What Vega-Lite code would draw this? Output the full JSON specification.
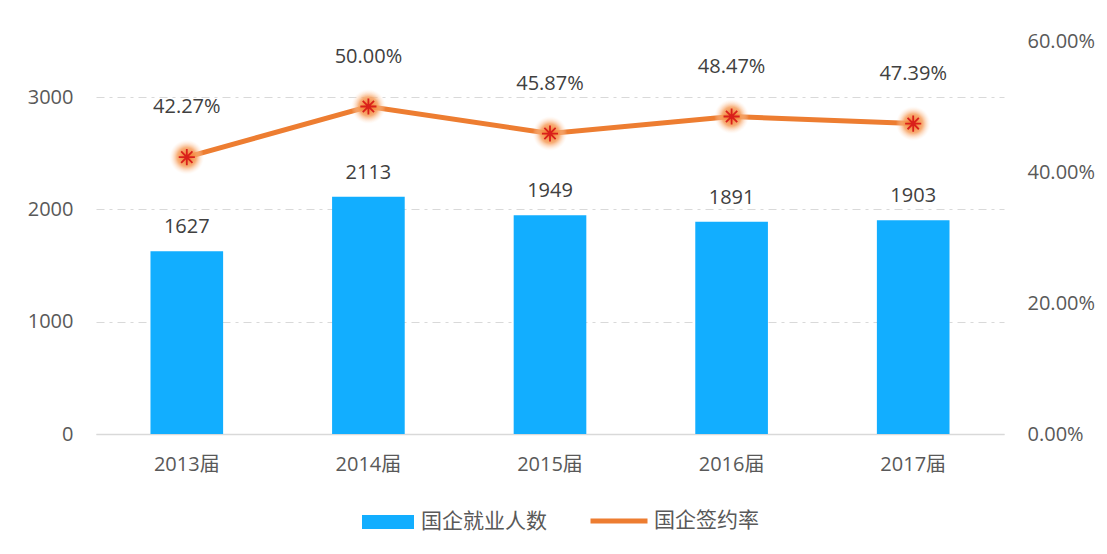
{
  "$schema": "https://vega.github.io/schema/vega-lite/v6.json",
  "autosize": {"type": "none"},
  "padding": {"left": 96, "top": 41, "right": 103, "bottom": 120},
  "width": 908,
  "height": 393,
  "background": "white",
  "config": {
    "view": {"stroke": null},
    "font": "Open Sans, Noto Sans CJK SC",
    "axis": {"labelFont": "Open Sans, Noto Sans CJK SC", "labelFontSize": 20, "labelColor": "#595959", "ticks": false, "title": null},
    "legend": {"labelFont": "Noto Sans CJK SC", "labelFontSize": 21, "labelColor": "#595959", "padding": 0, "title": null}
  },
  "data": {
    "values": [
      {"year": "2013届", "count": 1627, "rate": 0.4227},
      {"year": "2014届", "count": 2113, "rate": 0.5},
      {"year": "2015届", "count": 1949, "rate": 0.4587},
      {"year": "2016届", "count": 1891, "rate": 0.4847},
      {"year": "2017届", "count": 1903, "rate": 0.4739}
    ]
  },
  "encoding": {
    "x": {
      "field": "year", "type": "nominal", "sort": null,
      "scale": {"paddingInner": 0.6, "paddingOuter": 0.3},
      "axis": {"labelAngle": 0, "labelPadding": 20, "domainColor": "#d9d9d9", "domainWidth": 1.5}
    }
  },
  "layer": [
    {
      "encoding": {
        "y": {
          "field": "count", "type": "quantitative",
          "scale": {"domain": [0, 3500], "nice": false},
          "axis": {"values": [0, 1000, 2000, 3000], "format": "d", "grid": true, "gridColor": "#d9d9d9", "gridWidth": 1.2, "gridDash": [8, 5, 3, 5], "domain": false, "labelPadding": 23}
        }
      },
      "layer": [
        {
          "mark": {"type": "bar"},
          "encoding": {
            "fill": {
              "datum": "国企就业人数",
              "scale": {"range": ["#12AEFF"]},
              "legend": {
                "orient": "none", "legendX": 266, "legendY": 455,
                "symbolType": "M-1,-0.27H1V0.27H-1Z", "symbolSize": 2704, "labelOffset": 7, "symbolStrokeWidth": 0
              }
            }
          }
        },
        {
          "mark": {"type": "text", "baseline": "middle", "dy": -24, "fontSize": 20, "color": "#404040", "font": "Open Sans"},
          "encoding": {"text": {"field": "count", "type": "quantitative", "format": "d"}}
        }
      ]
    },
    {
      "encoding": {
        "y": {
          "field": "rate", "type": "quantitative",
          "scale": {"domain": [0, 0.6], "nice": false},
          "axis": {"orient": "right", "values": [0, 0.2, 0.4, 0.6], "format": ".2%", "grid": false, "domain": false, "labelPadding": 23}
        }
      },
      "layer": [
        {
          "mark": {"type": "line", "strokeWidth": 5},
          "encoding": {
            "stroke": {
              "datum": "国企签约率",
              "scale": {"range": ["#ED7D31"]},
              "legend": {
                "orient": "none", "legendX": 492, "legendY": 449,
                "symbolType": "stroke", "symbolSize": 3249, "symbolStrokeWidth": 5, "labelOffset": 4
              }
            }
          }
        },
        {
          "mark": {
            "type": "point", "filled": true, "size": 1200, "shape": "circle", "strokeWidth": 0,
            "fill": {
              "gradient": "radial",
              "stops": [
                {"offset": 0, "color": "rgba(240,110,30,1)"},
                {"offset": 0.55, "color": "rgba(246,160,95,0.85)"},
                {"offset": 1, "color": "rgba(255,230,210,0)"}
              ]
            },
            "opacity": 1
          }
        },
        {
          "mark": {
            "type": "point", "filled": false, "size": 260,
            "shape": "M0,-1V1M-1,0H1M-0.7,-0.7L0.7,0.7M-0.7,0.7L0.7,-0.7",
            "stroke": "#d9201b", "strokeWidth": 1.8, "opacity": 1
          }
        },
        {
          "mark": {"type": "text", "baseline": "middle", "dy": -50, "fontSize": 20, "color": "#404040", "font": "Open Sans"},
          "encoding": {"text": {"field": "rate", "type": "quantitative", "format": ".2%"}}
        }
      ]
    }
  ],
  "resolve": {"scale": {"y": "independent"}}
}
